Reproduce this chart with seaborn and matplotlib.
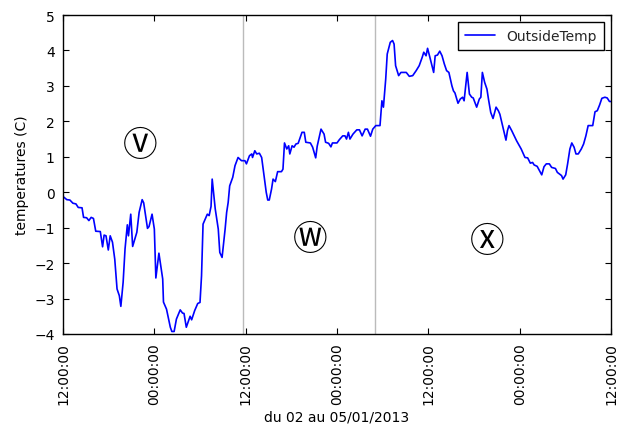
import matplotlib
matplotlib.use("Agg")
import matplotlib.pyplot as plt
import matplotlib.dates as mdates
import numpy as np
import pandas as pd
import seaborn as sns

# hours elapsed since 2013-01-02 12:00
hours = [0, 0.5, 0.9, 1.3, 1.7, 2.0, 2.5, 2.7, 3.1, 3.4, 3.7, 4.0, 4.3, 4.9, 5.2, 5.4, 5.65, 5.95, 6.2, 6.5,
         6.8, 7.1, 7.4, 7.6, 7.9, 8.15, 8.45, 8.6, 8.9, 9.15, 9.7, 10.0, 10.4, 10.6, 11.1, 11.3, 11.7, 12.0, 12.2, 12.6,
         13.1, 13.2, 13.6, 14.1, 14.3, 14.6, 14.9, 15.4, 15.7, 15.9, 16.2, 16.7, 16.9, 17.3, 17.7, 18.0, 18.2, 18.4, 18.96, 19.2,
         19.45, 19.6, 20.0, 20.2, 20.4, 20.6, 20.9, 21.3, 21.5, 21.7, 21.9, 22.3, 22.6, 23.0, 23.45, 23.9, 24.1, 24.5, 24.8, 24.9,
         25.2, 25.45, 25.8, 26.1, 26.3, 26.7, 26.9, 27.1, 27.4, 27.6, 27.9, 28.2, 28.7, 28.9, 29.1, 29.4, 29.65, 29.8, 30.1, 30.35,
         30.6, 30.9, 31.4, 31.7, 31.9, 32.5, 32.8, 33.2, 33.4, 33.9, 34.3, 34.5, 34.9, 35.2, 35.4, 36.0, 36.3, 36.75, 37.05, 37.25,
         37.5, 37.7, 38.1, 38.6, 38.95, 39.3, 39.7, 40.0, 40.4, 40.7, 41.1, 41.65, 41.9, 42.1, 42.4, 42.6, 43.0, 43.3, 43.5, 43.7,
         44.1, 44.4, 45.1, 45.5, 45.95, 46.4, 46.8, 47.2, 47.4, 47.7, 47.9, 48.2, 48.7, 48.9, 49.2, 49.5, 49.8, 50.1, 50.4, 50.7,
         51.1, 51.3, 51.5, 51.9, 52.2, 52.5, 52.7, 53.1, 53.4, 53.7, 53.9, 54.35, 54.7, 54.9, 55.1, 55.4, 55.7, 55.9, 56.2, 56.5,
         56.9, 57.2, 57.4, 57.65, 58.2, 58.4, 58.6, 58.95, 59.6, 60.2, 60.7, 61.05, 61.4, 61.7, 61.9, 62.3, 62.6, 62.9, 63.2, 63.5,
         63.9, 64.2, 64.7, 64.95, 65.5, 65.7, 66.05, 66.3, 66.6, 66.85, 67.15, 67.4, 67.7, 68.1, 68.4, 68.7, 69.0, 69.6, 69.9, 70.2,
         70.5, 70.8, 71.2, 71.5, 71.8, 72.0]

temps = [-0.12, -0.21, -0.22, -0.31, -0.33, -0.43, -0.44, -0.71, -0.72, -0.8, -0.71, -0.74, -1.1, -1.11, -1.54, -1.21, -1.23, -1.63, -1.23, -1.41,
         -1.89, -2.73, -2.92, -3.22, -2.54, -1.6, -0.92, -1.23, -0.62, -1.53, -1.13, -0.57, -0.21, -0.3, -1.02, -0.97, -0.62, -1.04, -2.42, -1.72,
         -2.45, -3.1, -3.3, -3.81, -3.93, -3.93, -3.58, -3.32, -3.41, -3.42, -3.81, -3.5, -3.6, -3.34, -3.14, -3.11, -2.36, -0.9, -0.62, -0.66,
         -0.4, 0.37, -0.47, -0.76, -1.04, -1.7, -1.84, -1.04, -0.57, -0.29, 0.18, 0.42, 0.75, 0.98, 0.89, 0.89, 0.8, 1.03, 1.08, 0.98,
         1.17, 1.08, 1.1, 0.98, 0.65, 0.0, -0.22, -0.22, 0.09, 0.37, 0.3, 0.58, 0.58, 0.65, 1.39, 1.22, 1.31, 1.08, 1.31, 1.27,
         1.36, 1.38, 1.69, 1.69, 1.41, 1.39, 1.27, 0.97, 1.3, 1.78, 1.64, 1.41, 1.38, 1.28, 1.39, 1.39, 1.48, 1.59, 1.59, 1.5,
         1.69, 1.5, 1.64, 1.76, 1.76, 1.59, 1.78, 1.78, 1.58, 1.78, 1.88, 1.88, 2.58, 2.4, 3.19, 3.9, 4.23, 4.28, 4.18, 3.57,
         3.29, 3.38, 3.38, 3.27, 3.29, 3.43, 3.57, 3.81, 3.95, 3.85, 4.06, 3.81, 3.38, 3.85, 3.87, 3.98, 3.85, 3.62, 3.43, 3.38,
         3.0, 2.86, 2.8, 2.51, 2.63, 2.68, 2.58, 3.38, 2.77, 2.68, 2.66, 2.4, 2.63, 2.68, 3.38, 3.1, 2.91, 2.63, 2.25, 2.08,
         2.4, 2.3, 2.2, 1.97, 1.47, 1.74, 1.88, 1.74, 1.45, 1.22, 0.98, 0.97, 0.82, 0.84, 0.77, 0.73, 0.61, 0.49, 0.72, 0.8,
         0.8, 0.7, 0.67, 0.56, 0.47, 0.37, 0.49, 0.8, 1.22, 1.39, 1.27, 1.08, 1.08, 1.22, 1.36, 1.59, 1.88, 1.88, 2.27, 2.3,
         2.46, 2.65, 2.68, 2.66, 2.56, 2.56]

start = pd.Timestamp("2013-01-02 12:00:00")
end = pd.Timestamp("2013-01-05 12:00:00")
separators = ["2013-01-03 11:42:00", "2013-01-04 04:58:00"]
zone_labels = ["\u24cb", "\u24cc", "\u24cd"]
zone_hours = [10.1, 32.5, 55.7]
zone_temps = [1.31, -1.33, -1.40]

df = pd.DataFrame({"time": start + pd.to_timedelta(hours, unit="h"), "OutsideTemp": temps})

sns.set_theme(style="ticks")
plt.rcParams["font.family"] = ["DejaVu Sans"]

fig = plt.figure(figsize=(6.22, 4.27), dpi=100)
ax = fig.add_axes([0.1013, 0.2155, 0.8810, 0.7470])

sns.lineplot(data=df, x="time", y="OutsideTemp", color="#0000ff", linewidth=1.2,
             label="OutsideTemp", ax=ax)

for s in separators:
    ax.axvline(pd.Timestamp(s), color="#bbbbbb", linewidth=1.0, zorder=0)

for lab, h, t in zip(zone_labels, zone_hours, zone_temps):
    ax.text(start + pd.Timedelta(hours=h), t, lab, fontsize=25, ha="center", va="center",
            color="black", family=["Noto Sans CJK JP", "DejaVu Sans"])

ax.set_xlim(start, end)
ax.set_ylim(-4, 5)
ax.set_yticks(np.arange(-4, 6, 1))
ax.xaxis.set_major_locator(mdates.HourLocator(byhour=[0, 12]))
ax.xaxis.set_major_formatter(mdates.DateFormatter("%H:%M:%S"))
plt.setp(ax.get_xticklabels(), rotation=90)

ax.tick_params(direction="in", top=True, right=True, length=4, width=0.8,
               labelsize=10, colors="black", pad=6)
for sp in ax.spines.values():
    sp.set_color("black")
    sp.set_linewidth(1.0)

ax.set_xlabel("du 02 au 05/01/2013", fontsize=10, color="black")
ax.set_ylabel("temperatures (C)", fontsize=10, color="black")

leg = ax.legend(loc="upper right", fancybox=False, frameon=True, fontsize=10,
                handlelength=2.2, borderpad=0.5)
leg.get_frame().set_edgecolor("black")
leg.get_frame().set_linewidth(1.0)
leg.get_frame().set_alpha(1)

fig.savefig("out.png", dpi=100)
